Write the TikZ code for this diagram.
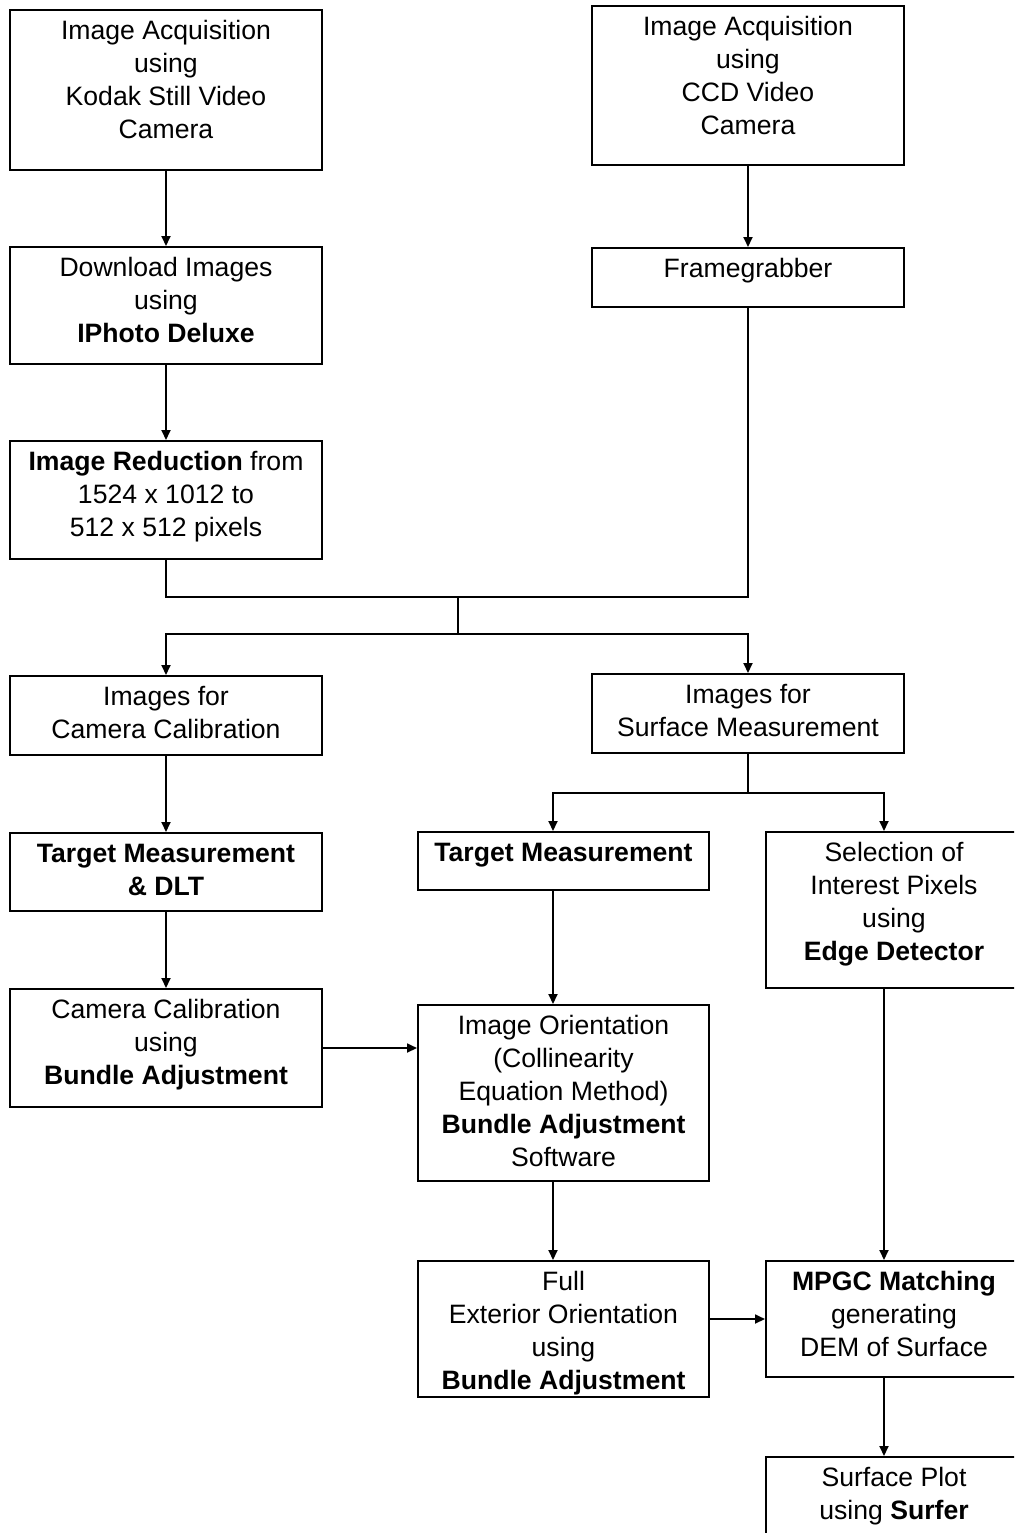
\documentclass[tikz,border=0pt]{standalone}
\usepackage{fontspec}
\setmainfont{Liberation Sans}
\usetikzlibrary{arrows.meta}
\newcommand\bx[3]{\parbox[c][#2][t]{#1}{\centering\rule{0pt}{14.75pt}#3\par}}
\begin{document}
\begin{tikzpicture}[x=0.5pt,y=-0.5pt,
  box/.style={draw, line width=1pt, inner sep=0pt, font=\fontsize{13.3pt}{16.5pt}\selectfont},
  conn/.style={line width=0.9pt},
  arr/.style={conn, -{Triangle[length=5pt,width=4.5pt]}}]
\useasboundingbox (0,0) rectangle (1014,1533);
\clip (0,0) rectangle (1014,1533);
\coordinate (mx) at (553,0);
\coordinate (rx) at (884,0);
% boxes
\node[box] (k) at (166,90) {\bx{156pt}{80pt}{Image Acquisition\\using\\Kodak Still Video\\Camera}};
\node[box] (ccd) at (748,85.5) {\bx{156pt}{79.5pt}{Image Acquisition\\using\\CCD Video\\Camera}};
\node[box] (dl) at (166,305.5) {\bx{156pt}{58.5pt}{Download Images\\using\\\textbf{IPhoto Deluxe}}};
\node[box] (fg) at (748,277.5) {\bx{156pt}{29.5pt}{Framegrabber}};
\node[box] (red) at (166,500) {\bx{156pt}{59pt}{\textbf{Image Reduction} from\\1524 x 1012 to\\512 x 512 pixels}};
\node[box] (icc) at (166,715.5) {\bx{156pt}{39.5pt}{Images for\\Camera Calibration}};
\node[box] (ism) at (748,713.5) {\bx{156pt}{39.5pt}{Images for\\Surface Measurement}};
\node[box] (tdlt) at (166,872) {\bx{156pt}{39pt}{\textbf{Target Measurement}\\\textbf{\& DLT}}};
\node[box] (tm) at (563.5,861) {\bx{145.5pt}{29pt}{\textbf{Target Measurement}}};
\node[box] (sel) at (894,910) {\bx{128pt}{78pt}{Selection of\\Interest Pixels\\using\\\textbf{Edge Detector}}};
\node[box] (ccb) at (166,1048) {\bx{156pt}{59pt}{Camera Calibration\\using\\\textbf{Bundle Adjustment}}};
\node[box] (io) at (563.5,1093) {\bx{145.5pt}{88pt}{Image Orientation\\(Collinearity\\Equation Method)\\\textbf{Bundle Adjustment}\\Software}};
\node[box] (fe) at (563.5,1329) {\bx{145.5pt}{68pt}{Full\\Exterior Orientation\\using\\\textbf{Bundle Adjustment}}};
\node[box] (mpgc) at (894,1319) {\bx{128pt}{58pt}{\textbf{MPGC Matching}\\generating\\DEM of Surface}};
\node[box] (sp) at (894,1496.5) {\bx{128pt}{39.5pt}{Surface Plot\\using \textbf{Surfer}}};
% junctions
\coordinate (j1) at (458,597);
\coordinate (j2) at (458,634);
\coordinate (j3) at (748,793);
% connectors
\draw[arr] (k) -- (dl);
\draw[arr] (ccd) -- (fg);
\draw[arr] (dl) -- (red);
\draw[conn] (red.south) |- (j1) -| (fg.south);
\draw[conn] (j1) -- (j2);
\draw[arr] (j2) -| (icc.north);
\draw[arr] (j2) -| (ism.north);
\draw[conn] (ism.south) -- (j3);
\draw[arr] (j3) -| (tm.north -| mx);
\draw[arr] (j3) -| (sel.north -| rx);
\draw[arr] (icc) -- (tdlt);
\draw[arr] (tdlt) -- (ccb);
\draw[arr] (ccb.east) -- (io.west |- ccb.east);
\draw[arr] (tm.south -| mx) -- (io.north -| mx);
\draw[arr] (io.south -| mx) -- (fe.north -| mx);
\draw[arr] (sel.south -| rx) -- (mpgc.north -| rx);
\draw[arr] (fe.east |- mpgc.west) -- (mpgc.west);
\draw[arr] (mpgc.south -| rx) -- (sp.north -| rx);
\end{tikzpicture}
\end{document}
